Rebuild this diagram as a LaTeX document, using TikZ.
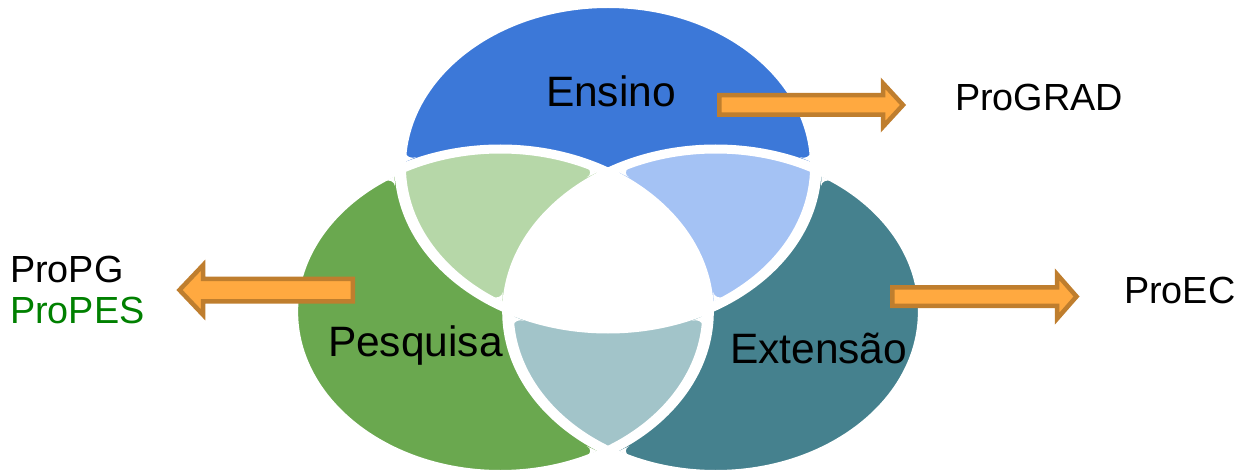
\documentclass[tikz,border=0pt]{standalone}
\usepackage{fontspec}
\setmainfont{Liberation Sans}
\definecolor{cBlue}{HTML}{3C78D8}
\definecolor{cGreen}{HTML}{6AA84F}
\definecolor{cTeal}{HTML}{45818E}
\definecolor{cLGreen}{HTML}{B6D7A8}
\definecolor{cLBlue}{HTML}{A4C2F4}
\definecolor{cLTeal}{HTML}{A2C4C9}
\definecolor{cOrange}{HTML}{FFA940}
\definecolor{cOrangeDark}{HTML}{BF7E2E}
\definecolor{cProGreen}{HTML}{008000}
% rounds an acute corner of a region: junction (#1,#2), unit direction (#3,#4) into the region
\newcommand\tipcut[4]{%
  \pgfmathsetmacro\Px{#1+8.71*(#3)}%
  \pgfmathsetmacro\Py{#2+8.71*(#4)}%
  \fill[white] (\Px,\Py)
    -- ({\Px+7.945*(#3)-4.794*(#4)},{\Py+7.945*(#4)+4.794*(#3)})
    .. controls ({\Px+4.337*(#3)-2.617*(#4)},{\Py+4.337*(#4)+2.617*(#3)})
    and ({\Px+4.337*(#3)+2.617*(#4)},{\Py+4.337*(#4)-2.617*(#3)})
    .. ({\Px+7.945*(#3)+4.794*(#4)},{\Py+7.945*(#4)-4.794*(#3)}) -- cycle;}
\begin{document}
\begin{tikzpicture}[x=1pt,y=-1pt,
  lbl/.style={font=\fontsize{42.5}{50}\selectfont, inner sep=0pt, outer sep=0pt, anchor=base west},
  side/.style={font=\fontsize{37.8}{44}\selectfont, inner sep=0pt, outer sep=0pt, anchor=base west},
  blockarrow/.style={fill=cOrange, draw=cOrangeDark, line width=4.5pt, line join=miter},
  gap/.style={draw=white, line width=9pt}]
\useasboundingbox (0,0) rectangle (1238,470);
\def\R{162.75}
% Venn diagram (drawn as circles, stretched horizontally)
\begin{scope}[transform canvas={cm={1.277,0,0,1,(608,0)}}]
  \coordinate (cT) at (0,166.25);
  \coordinate (cL) at (-84.4,311.75);
  \coordinate (cR) at (84.4,311.75);
  \fill[cBlue] (cT) circle[radius=\R];
  \fill[cGreen] (cL) circle[radius=\R];
  \fill[cTeal] (cR) circle[radius=\R];
  \begin{scope}
    \clip (cT) circle[radius=\R];
    \fill[cLGreen] (cL) circle[radius=\R];
    \fill[cLBlue] (cR) circle[radius=\R];
  \end{scope}
  \begin{scope}
    \clip (cL) circle[radius=\R];
    \fill[cLTeal] (cR) circle[radius=\R];
    \clip (cT) circle[radius=\R];
    \fill[white] (cR) circle[radius=\R];
  \end{scope}
  \draw[gap] (cT) circle[radius=\R];
  \draw[gap] (cL) circle[radius=\R];
  \draw[gap] (cR) circle[radius=\R];
  % rounded tips of the acute corners
  \tipcut{0}{172.6}{-1}{0}
  \tipcut{0}{172.6}{1}{0}
  \tipcut{0}{450.9}{-1}{0}
  \tipcut{0}{450.9}{1}{0}
  \tipcut{-162.7}{169.1}{0.5018}{-0.8650}
  \tipcut{-162.7}{169.1}{-0.5018}{0.8650}
  \tipcut{162.7}{169.1}{-0.5018}{-0.8650}
  \tipcut{162.7}{169.1}{0.5018}{0.8650}
  \tipcut{78.3}{308.9}{0.5018}{-0.8650}
  \tipcut{78.3}{308.9}{-0.5018}{0.8650}
  \tipcut{-78.3}{308.9}{-0.5018}{-0.8650}
  \tipcut{-78.3}{308.9}{0.5018}{0.8650}
\end{scope}
% block arrows
\draw[blockarrow] (719.25,95.25) -- (883,95.25) -- (883,83.25) -- (903,105)
  -- (883,126.75) -- (883,114.75) -- (719.25,114.75) -- cycle;
\draw[blockarrow] (892.25,287.25) -- (1057,287.25) -- (1057,274.25) -- (1076.5,296.5)
  -- (1057,318.75) -- (1057,305.75) -- (892.25,305.75) -- cycle;
\draw[blockarrow] (352.75,278.75) -- (203,278.75) -- (203,265.25) -- (179.5,290)
  -- (203,314.75) -- (203,301.25) -- (352.75,301.25) -- cycle;
% labels
\node[lbl] (ensino) at (546,107) {Ensino};
\node[lbl] (pesquisa) at (328,356) {Pesquisa};
\node[lbl] (extensao) at (730,363) {Extensão};
\node[side] (prograd) at (955,111) {ProGRAD};
\node[side] (proec) at (1124,303) {ProEC};
\node[side] (propg) at (10,282) {ProPG};
\node[side, text=cProGreen] (propes) at (10,323) {ProPES};
\end{tikzpicture}
\end{document}
